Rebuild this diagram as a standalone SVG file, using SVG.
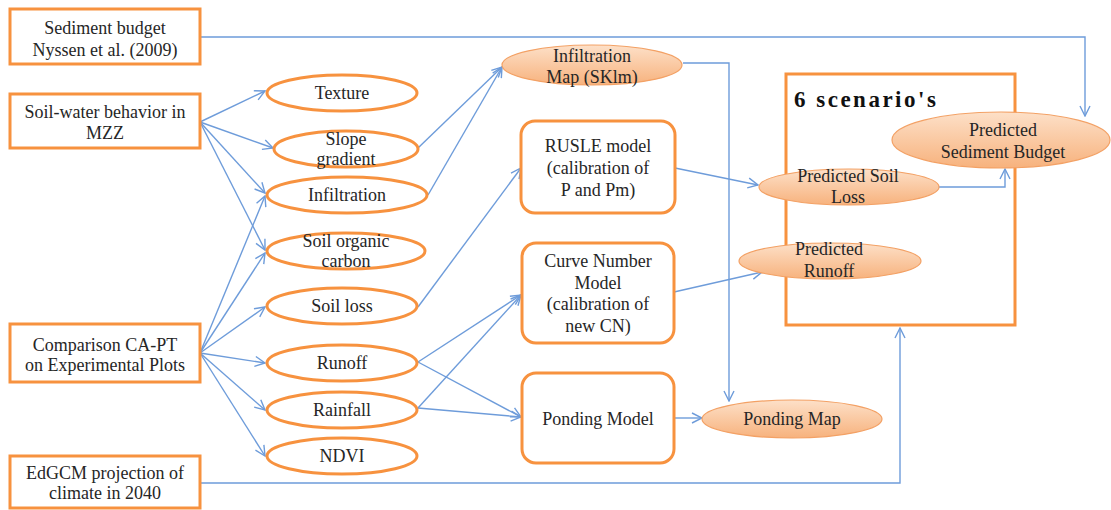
<svg xmlns="http://www.w3.org/2000/svg" width="1111" height="510" viewBox="0 0 1111 510" font-family="Liberation Serif, serif">
<style>
.box{fill:#fff;stroke:#F7923F;stroke-width:3}
.oval{fill:#fff;stroke:#F7923F;stroke-width:3}
.res{fill:url(#og);stroke:#F3A165;stroke-width:1.2}
.t{font-size:18px;fill:#262626;text-anchor:middle}
.c{fill:none;stroke:#6E9CDA;stroke-width:1.4}
</style>
<defs>
<linearGradient id="og" x1="0" y1="0" x2="0" y2="1">
<stop offset="0" stop-color="#FDE0C8"/>
<stop offset="1" stop-color="#F7B27D"/>
</linearGradient>
<marker id="a" markerUnits="userSpaceOnUse" markerWidth="12" markerHeight="12" refX="11" refY="6" orient="auto">
<path d="M1,1 L11,6 L1,11" fill="none" stroke="#6E9CDA" stroke-width="1.4"/>
</marker>
</defs>
<rect width="1111" height="510" fill="#fff"/>

<g id="connectors">
<polyline class="c" points="200,37 1085,37 1085,116" marker-end="url(#a)"/>
<line class="c" x1="200" y1="122" x2="265" y2="91" marker-end="url(#a)"/>
<line class="c" x1="200" y1="122" x2="273" y2="148" marker-end="url(#a)"/>
<line class="c" x1="200" y1="122" x2="265" y2="193" marker-end="url(#a)"/>
<line class="c" x1="200" y1="122" x2="265" y2="250" marker-end="url(#a)"/>
<line class="c" x1="200" y1="353" x2="265" y2="196" marker-end="url(#a)"/>
<line class="c" x1="200" y1="353" x2="265" y2="253" marker-end="url(#a)"/>
<line class="c" x1="200" y1="353" x2="265" y2="307" marker-end="url(#a)"/>
<line class="c" x1="200" y1="353" x2="265" y2="363" marker-end="url(#a)"/>
<line class="c" x1="200" y1="353" x2="265" y2="410" marker-end="url(#a)"/>
<line class="c" x1="200" y1="353" x2="265" y2="456" marker-end="url(#a)"/>
<line class="c" x1="418" y1="148" x2="502" y2="67" marker-end="url(#a)"/>
<line class="c" x1="428" y1="195" x2="502" y2="67" marker-end="url(#a)"/>
<line class="c" x1="418" y1="307" x2="521" y2="168" marker-end="url(#a)"/>
<line class="c" x1="418" y1="362" x2="521" y2="295" marker-end="url(#a)"/>
<line class="c" x1="418" y1="408" x2="521" y2="295" marker-end="url(#a)"/>
<line class="c" x1="418" y1="362" x2="521" y2="417" marker-end="url(#a)"/>
<line class="c" x1="418" y1="408" x2="521" y2="417" marker-end="url(#a)"/>
<line class="c" x1="674" y1="418" x2="702" y2="418" marker-end="url(#a)"/>
<polyline class="c" points="683,63 729,63 729,401" marker-end="url(#a)"/>
<line class="c" x1="675" y1="168" x2="758" y2="185" marker-end="url(#a)"/>
<line class="c" x1="674" y1="292" x2="762" y2="272" marker-end="url(#a)"/>
<polyline class="c" points="939,187 1005,187 1005,169" marker-end="url(#a)"/>
<polyline class="c" points="200,483 900,483 900,328" marker-end="url(#a)"/>
</g>

<g id="sediment-budget">
<rect class="box" x="10" y="9" width="190" height="55"/>
<text class="t" x="105" y="34">Sediment budget</text>
<text class="t" x="105" y="56">Nyssen et al. (2009)</text>
</g>
<g id="soil-water">
<rect class="box" x="10" y="94" width="190" height="54"/>
<text class="t" x="105" y="118">Soil-water behavior in</text>
<text class="t" x="105" y="139">MZZ</text>
</g>
<g id="comparison">
<rect class="box" x="10" y="324" width="190" height="58"/>
<text class="t" x="105" y="351">Comparison CA-PT</text>
<text class="t" x="105" y="371">on Experimental Plots</text>
</g>
<g id="edgcm">
<rect class="box" x="10" y="456" width="190" height="52"/>
<text class="t" x="105" y="479">EdGCM projection of</text>
<text class="t" x="105" y="499">climate in 2040</text>
</g>

<g id="texture">
<ellipse class="oval" cx="342" cy="93" rx="75" ry="18"/>
<text class="t" x="342" y="99">Texture</text>
</g>
<g id="slope-gradient">
<ellipse class="oval" cx="346" cy="149" rx="72" ry="18"/>
<text class="t" x="346" y="145">Slope</text>
<text class="t" x="346" y="165">gradient</text>
</g>
<g id="infiltration">
<ellipse class="oval" cx="347" cy="195" rx="80" ry="18"/>
<text class="t" x="347" y="201">Infiltration</text>
</g>
<g id="soil-organic-carbon">
<ellipse class="oval" cx="346" cy="251" rx="79" ry="18"/>
<text class="t" x="346" y="247">Soil organic</text>
<text class="t" x="346" y="267">carbon</text>
</g>
<g id="soil-loss">
<ellipse class="oval" cx="342" cy="306" rx="75" ry="18"/>
<text class="t" x="342" y="312">Soil loss</text>
</g>
<g id="runoff">
<ellipse class="oval" cx="342" cy="363" rx="75" ry="18"/>
<text class="t" x="342" y="369">Runoff</text>
</g>
<g id="rainfall">
<ellipse class="oval" cx="342" cy="410" rx="75" ry="18"/>
<text class="t" x="342" y="416">Rainfall</text>
</g>
<g id="ndvi">
<ellipse class="oval" cx="342" cy="456" rx="75" ry="18"/>
<text class="t" x="342" y="462">NDVI</text>
</g>

<g id="infiltration-map">
<ellipse class="res" cx="592" cy="65" rx="90" ry="20"/>
<text class="t" x="592" y="62">Infiltration</text>
<text class="t" x="592" y="83">Map (SKlm)</text>
</g>
<g id="rusle">
<rect class="box" x="521" y="121" width="154" height="92" rx="14"/>
<text class="t" x="598" y="152">RUSLE model</text>
<text class="t" x="598" y="174">(calibration of</text>
<text class="t" x="598" y="196">P and Pm)</text>
</g>
<g id="curve-number">
<rect class="box" x="522" y="243" width="152" height="100" rx="14"/>
<text class="t" x="598" y="267">Curve Number</text>
<text class="t" x="598" y="289">Model</text>
<text class="t" x="598" y="310">(calibration of</text>
<text class="t" x="598" y="332">new CN)</text>
</g>
<g id="ponding-model">
<rect class="box" x="522" y="373" width="152" height="90" rx="14"/>
<text class="t" x="598" y="425">Ponding Model</text>
</g>
<g id="ponding-map">
<ellipse class="res" cx="792" cy="419" rx="90" ry="19"/>
<text class="t" x="792" y="425">Ponding Map</text>
</g>

<g id="scenarios">
<rect fill="none" stroke="#F7923F" stroke-width="3" x="786" y="74" width="229" height="251"/>
<text x="794" y="107" font-size="23" font-weight="bold" letter-spacing="2.5" fill="#111">6 scenario's</text>
</g>
<g id="predicted-sediment-budget">
<ellipse class="res" cx="1001" cy="140" rx="109" ry="28"/>
<text class="t" x="1003" y="136">Predicted</text>
<text class="t" x="1003" y="158">Sediment Budget</text>
</g>
<g id="predicted-soil-loss">
<ellipse class="res" cx="849" cy="187" rx="90" ry="18"/>
<text class="t" x="848" y="182">Predicted Soil</text>
<text class="t" x="848" y="203">Loss</text>
</g>
<g id="predicted-runoff">
<ellipse class="res" cx="830" cy="261" rx="91" ry="18"/>
<text class="t" x="829" y="255">Predicted</text>
<text class="t" x="829" y="277">Runoff</text>
</g>
</svg>
